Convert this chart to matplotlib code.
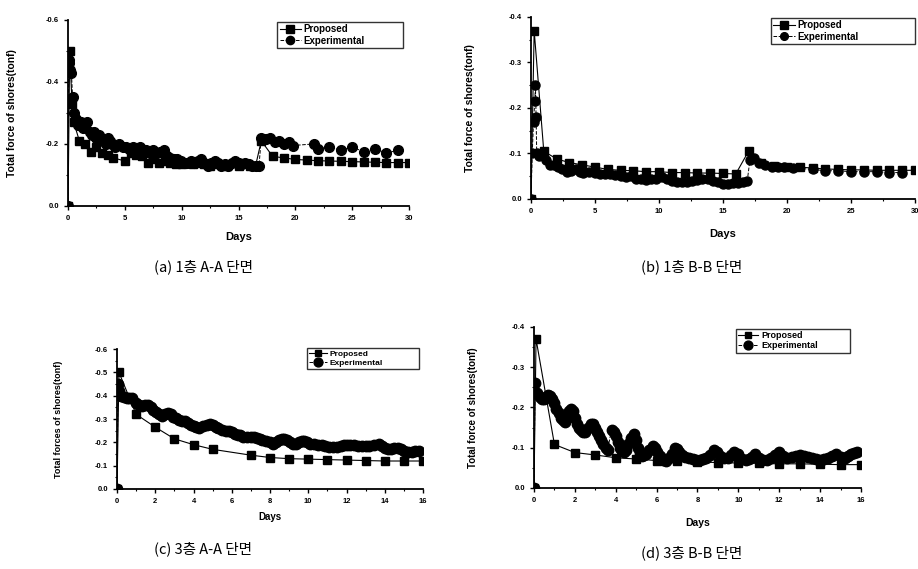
import matplotlib.pyplot as plt
from matplotlib.ticker import MultipleLocator

# (a) 1st floor A-A section
a_prop_x = [0, 0.15, 0.35, 0.5, 1, 1.5, 2, 2.5, 3, 3.5, 4, 5, 5.5, 6, 6.5, 7, 7.5, 8, 8.5, 9,
            9.5, 10, 10.5, 11, 11.5, 12, 12.5, 13, 14, 15, 16, 16.5,
            17, 18, 19, 20, 21, 22, 23, 24, 25, 26, 27, 28, 29, 30]
a_prop_y = [0, -0.50, -0.33, -0.27, -0.21, -0.20, -0.175, -0.19, -0.17, -0.165, -0.155, -0.145, -0.17, -0.165,
            -0.16, -0.14, -0.15, -0.14, -0.145, -0.14, -0.135, -0.135, -0.14, -0.135, -0.14, -0.135, -0.13,
            -0.135, -0.13, -0.13, -0.13, -0.13,
            -0.21, -0.16, -0.155, -0.15, -0.148, -0.146, -0.145, -0.144, -0.143, -0.142, -0.141, -0.14, -0.14, -0.14]
a_exp_x = [0, 0.05, 0.1, 0.2, 0.3, 0.4, 0.5, 0.7, 0.9, 1.1, 1.3, 1.5, 1.7, 1.9, 2.1, 2.3, 2.5, 2.7, 2.9,
           3.1, 3.3, 3.5, 3.7, 3.9, 4.1, 4.5, 4.8, 5.1, 5.4, 5.7, 6.0, 6.3, 6.6, 6.9, 7.2, 7.5, 7.8,
           8.1, 8.4, 8.7, 9.0, 9.3, 9.6, 9.9, 10.2, 10.5, 10.8, 11.1, 11.4, 11.7, 12.0, 12.3, 12.6,
           12.9, 13.2, 13.5, 13.8, 14.1, 14.4, 14.7, 15.0, 15.3, 15.6, 15.9, 16.2, 16.5, 16.8,
           17.0, 17.4, 17.8, 18.2, 18.6, 19.0, 19.4, 19.8, 21.6, 22.0, 23.0, 24.0, 25.0, 26.0, 27.0, 28.0, 29.0]
a_exp_y = [0, -0.47, -0.46, -0.44, -0.43, -0.35, -0.30, -0.28, -0.26, -0.27, -0.25, -0.26, -0.27, -0.24,
           -0.23, -0.24, -0.22, -0.23, -0.22, -0.21, -0.20, -0.22, -0.21, -0.20, -0.19, -0.20, -0.19,
           -0.19, -0.185, -0.19, -0.18, -0.19, -0.17, -0.18, -0.17, -0.18, -0.17, -0.175, -0.18, -0.16,
           -0.155, -0.15, -0.15, -0.145, -0.14, -0.14, -0.145, -0.14, -0.145, -0.15, -0.14, -0.13, -0.14,
           -0.145, -0.14, -0.13, -0.135, -0.13, -0.14, -0.145, -0.14, -0.135, -0.14, -0.135, -0.13,
           -0.13, -0.13,
           -0.22, -0.215, -0.22, -0.205, -0.21, -0.20, -0.205, -0.195, -0.20, -0.185, -0.19, -0.18,
           -0.19, -0.175, -0.185, -0.17, -0.18]

# (b) 1st floor B-B section
b_prop_x = [0, 0.25, 1, 2, 3, 4, 5, 6, 7, 8, 9, 10, 11, 12, 13, 14, 15, 16,
            17, 18, 19, 20, 21, 22, 23, 24, 25, 26, 27, 28, 29, 30]
b_prop_y = [0, -0.37, -0.105, -0.088, -0.08, -0.075, -0.07, -0.065, -0.063, -0.062, -0.06, -0.06, -0.058,
            -0.058, -0.057, -0.057, -0.056, -0.055,
            -0.105, -0.08, -0.072, -0.07, -0.07, -0.068, -0.066, -0.065, -0.064, -0.064, -0.063,
            -0.063, -0.063, -0.063]
b_exp_x = [0, 0.1, 0.2, 0.3, 0.35, 0.4, 0.45, 0.6, 0.9, 1.2, 1.5, 1.8, 2.1, 2.4, 2.8, 3.1, 3.5, 3.8,
           4.1, 4.5, 5.0, 5.4, 5.8, 6.2, 6.6, 7.0, 7.4, 7.8, 8.2, 8.6, 9.0, 9.4, 9.8, 10.2, 10.6,
           11.0, 11.4, 11.8, 12.2, 12.6, 13.0, 13.4, 13.8, 14.2, 14.6, 15.0, 15.4, 15.8, 16.2, 16.6,
           16.9, 17.1, 17.4, 17.8, 18.3, 18.8, 19.3, 19.8, 20.5, 22.0, 23.0, 24.0, 25.0, 26.0, 27.0,
           28.0, 29.0]
b_exp_y = [0, -0.10, -0.17, -0.215, -0.25, -0.18, -0.10, -0.095, -0.10, -0.085, -0.075, -0.075, -0.07,
           -0.065, -0.06, -0.062, -0.065, -0.06, -0.058, -0.06, -0.058, -0.055, -0.055, -0.055, -0.053,
           -0.05, -0.048, -0.05, -0.045, -0.045, -0.042, -0.045, -0.045, -0.048, -0.045, -0.04, -0.038,
           -0.037, -0.037, -0.04, -0.042, -0.045, -0.045, -0.04, -0.038, -0.033, -0.032, -0.035, -0.035,
           -0.038, -0.04, -0.085, -0.09, -0.08, -0.075, -0.07, -0.07, -0.07, -0.068, -0.065, -0.062,
           -0.062, -0.06, -0.06, -0.06, -0.058, -0.058]

# (c) 3rd floor A-A section
c_prop_x = [0, 0.1, 1, 2, 3, 4, 5, 7, 8, 9, 10, 11, 12, 13, 14, 15, 16]
c_prop_y = [0, -0.50, -0.32, -0.265, -0.215, -0.19, -0.17, -0.145, -0.135, -0.13, -0.128, -0.126,
            -0.124, -0.122, -0.12, -0.12, -0.12]
c_exp_x = [0, 0.05, 0.1, 0.2, 0.35, 0.5, 0.65, 0.8, 1.0, 1.15, 1.3, 1.45, 1.6, 1.75, 1.9, 2.05, 2.2,
           2.35, 2.5, 2.65, 2.8, 2.95, 3.1, 3.25, 3.4, 3.55, 3.7, 3.85, 4.0, 4.15, 4.3, 4.5, 4.7,
           4.85, 5.0, 5.15, 5.3, 5.5, 5.7, 5.85, 6.0, 6.15, 6.3, 6.45, 6.6, 6.8, 7.0, 7.15, 7.3,
           7.45, 7.6, 7.8, 8.0, 8.15, 8.3, 8.45, 8.6, 8.75, 8.9, 9.05, 9.2, 9.35, 9.5, 9.65, 9.8,
           9.95, 10.1, 10.3, 10.5, 10.7, 10.9, 11.1, 11.3, 11.5, 11.7, 11.85, 12.0, 12.2, 12.4,
           12.6, 12.8, 13.0, 13.2, 13.45, 13.7, 13.85, 14.0, 14.15, 14.3, 14.5, 14.7, 14.85, 15.0,
           15.2, 15.4, 15.6, 15.8]
c_exp_y = [0, -0.45, -0.42, -0.40, -0.395, -0.39, -0.39, -0.39, -0.37, -0.36, -0.355, -0.36, -0.36,
           -0.35, -0.34, -0.33, -0.32, -0.315, -0.32, -0.325, -0.32, -0.31, -0.305, -0.295, -0.29,
           -0.29, -0.285, -0.275, -0.27, -0.265, -0.26, -0.27, -0.275, -0.28, -0.275, -0.265, -0.26,
           -0.255, -0.25, -0.25, -0.245, -0.235, -0.23, -0.23, -0.225, -0.225, -0.225, -0.225, -0.22,
           -0.215, -0.21, -0.205, -0.20, -0.195, -0.20, -0.21, -0.215, -0.215, -0.21, -0.20, -0.195,
           -0.195, -0.20, -0.205, -0.205, -0.20, -0.195, -0.195, -0.19, -0.19, -0.185, -0.18, -0.18,
           -0.18, -0.185, -0.19, -0.19, -0.19, -0.19, -0.185, -0.185, -0.185, -0.185, -0.19, -0.195,
           -0.185, -0.175, -0.17, -0.17, -0.175, -0.175, -0.17, -0.165, -0.16, -0.16, -0.165, -0.165]

# (d) 3rd floor B-B section
d_prop_x = [0, 0.1, 1, 2, 3, 4, 5, 6, 7, 8, 9, 10, 11, 12, 13, 14, 15, 16]
d_prop_y = [0, -0.37, -0.108, -0.088, -0.082, -0.075, -0.072, -0.068, -0.066, -0.065, -0.063, -0.062,
            -0.061, -0.06, -0.06, -0.059, -0.058, -0.058]
d_exp_x = [0, 0.05, 0.15, 0.3, 0.4, 0.5, 0.6, 0.7, 0.8, 0.9, 1.0, 1.1, 1.2, 1.3, 1.4, 1.5, 1.6, 1.7,
           1.8, 1.9, 2.0, 2.1, 2.2, 2.3, 2.4, 2.5, 2.65, 2.8, 2.9, 3.0, 3.1, 3.2, 3.3, 3.4, 3.5, 3.6,
           3.8, 3.9, 4.0, 4.1, 4.2, 4.3, 4.4, 4.5, 4.6, 4.75, 4.9, 5.0, 5.1, 5.2, 5.3, 5.4, 5.5,
           5.65, 5.8, 5.9, 6.0, 6.15, 6.3, 6.45, 6.6, 6.75, 6.9, 7.0, 7.1, 7.25, 7.4, 7.6, 7.8,
           7.95, 8.1, 8.25, 8.4, 8.6, 8.8, 8.95, 9.1, 9.3, 9.5, 9.65, 9.8, 10.0, 10.2, 10.35, 10.5,
           10.65, 10.8, 11.0, 11.2, 11.4, 11.6, 11.8, 12.0, 12.2, 12.4, 12.6, 12.8, 13.0, 13.2,
           13.4, 13.6, 13.8, 14.0, 14.2, 14.4, 14.6, 14.8, 15.0, 15.2, 15.35, 15.5, 15.65, 15.8]
d_exp_y = [0, -0.26, -0.235, -0.225, -0.22, -0.22, -0.225, -0.23, -0.228, -0.22, -0.21, -0.195,
           -0.185, -0.175, -0.168, -0.165, -0.175, -0.19, -0.195, -0.19, -0.175, -0.16, -0.15,
           -0.145, -0.14, -0.14, -0.15, -0.16, -0.158, -0.15, -0.14, -0.13, -0.12, -0.11, -0.1,
           -0.095, -0.145, -0.14, -0.13, -0.115, -0.1, -0.092, -0.09, -0.095, -0.11, -0.125,
           -0.135, -0.12, -0.1, -0.088, -0.08, -0.082, -0.085, -0.095, -0.105, -0.1, -0.09, -0.08,
           -0.07, -0.068, -0.075, -0.085, -0.1, -0.098, -0.09, -0.082, -0.078, -0.075, -0.072,
           -0.07, -0.07, -0.072, -0.075, -0.082, -0.095, -0.09, -0.08, -0.075, -0.075, -0.082,
           -0.09, -0.085, -0.072, -0.07, -0.072, -0.078, -0.085, -0.075, -0.07, -0.07, -0.075,
           -0.082, -0.09, -0.08, -0.075, -0.078, -0.08, -0.082, -0.08, -0.076, -0.075, -0.072,
           -0.07, -0.072, -0.075, -0.08, -0.085, -0.078, -0.075, -0.08, -0.085, -0.088, -0.09]

captions = ['(a) 1층 A-A 단면', '(b) 1층 B-B 단면', '(c) 3층 A-A 단면', '(d) 3층 B-B 단면']

plt.rcParams['font.family'] = ['Liberation Sans', 'DejaVu Sans']
plt.rcParams['axes.unicode_minus'] = False

fig = plt.figure(figsize=(9.18, 5.69), dpi=100)

panels = [
    dict(rect=[0.0741, 0.638, 0.3715, 0.327], xmax=30, xmaj=5, ymin=-0.6, ymaj=0.2, ymin_t=0.1,
         prop=(a_prop_x, a_prop_y), exp=(a_exp_x, a_exp_y), ylabel='Total force of shores(tonf)',
         ylab_x=-0.15, xlab_y=-0.14, ms=(6, 7), fs=7.5, leg=(0.613, 0.817, 0.369, 0.172)),
    dict(rect=[0.5784, 0.6503, 0.4183, 0.3199], xmax=30, xmaj=5, ymin=-0.4, ymaj=0.1, ymin_t=0.05,
         prop=(b_prop_x, b_prop_y), exp=(b_exp_x, b_exp_y), ylabel='Total force of shores(tonf)',
         ylab_x=-0.146, xlab_y=-0.165, ms=(6, 6.5), fs=7.5, leg=(0.625, 0.808, 0.375, 0.187)),
    dict(rect=[0.1275, 0.1406, 0.3333, 0.246], xmax=16, xmaj=2, ymin=-0.6, ymaj=0.1, ymin_t=0.05,
         prop=(c_prop_x, c_prop_y), exp=(c_exp_x, c_exp_y), ylabel='Total forces of shores(tonf)',
         ylab_x=-0.176, xlab_y=-0.164, ms=(5.5, 7.5), fs=6.5, leg=(0.621, 0.829, 0.366, 0.178)),
    dict(rect=[0.5817, 0.1424, 0.3562, 0.283], xmax=16, xmaj=2, ymin=-0.4, ymaj=0.1, ymin_t=0.05,
         prop=(d_prop_x, d_prop_y), exp=(d_exp_x, d_exp_y), ylabel='Total force of shores(tonf)',
         ylab_x=-0.171, xlab_y=-0.186, ms=(5.5, 7.5), fs=7, leg=(0.618, 0.814, 0.348, 0.174)),
]

for p in panels:
    ax = fig.add_axes(p['rect'])
    ax.plot(*p['prop'], color='black', lw=0.8, marker='s', ms=p['ms'][0], label='Proposed')
    ax.plot(*p['exp'], color='black', lw=0.7, ls='--', marker='o', ms=p['ms'][1], label='Experimental')
    ax.set_xlim(0, p['xmax'])
    ax.set_ylim(0, p['ymin'])
    ax.xaxis.set_major_locator(MultipleLocator(p['xmaj']))
    ax.xaxis.set_minor_locator(MultipleLocator(p['xmaj'] / 2))
    ax.yaxis.set_major_locator(MultipleLocator(p['ymaj']))
    ax.yaxis.set_minor_locator(MultipleLocator(p['ymin_t']))
    ax.spines['top'].set_visible(False)
    ax.spines['right'].set_visible(False)
    ax.spines['left'].set_linewidth(1.3)
    ax.spines['bottom'].set_linewidth(1.3)
    ax.tick_params(which='major', length=3, width=1, labelsize=5.5)
    ax.tick_params(which='minor', length=1.5, width=0.8)
    for lab in ax.get_xticklabels() + ax.get_yticklabels():
        lab.set_fontweight('bold')
    ax.set_ylabel(p['ylabel'], fontsize=p['fs'], fontweight='bold')
    ax.set_xlabel('Days', fontsize=p['fs'] + 0.5, fontweight='bold')
    ax.yaxis.set_label_coords(p['ylab_x'], 0.5)
    ax.xaxis.set_label_coords(0.5, p['xlab_y'])
    leg = ax.legend(loc='upper left', bbox_to_anchor=p['leg'], mode='expand', fancybox=False,
                    edgecolor='black', fontsize=p['fs'] - 0.5, handlelength=2.2, borderpad=0.25,
                    labelspacing=0.15, handletextpad=0.3, borderaxespad=0, markerscale=0.85)
    leg.get_frame().set_linewidth(1.0)
    for t in leg.get_texts():
        t.set_fontweight('bold')

cap_font = ['Noto Sans CJK KR', 'DejaVu Sans']
fig.text(203 / 918, 1 - 267 / 569, captions[0], ha='center', va='center', fontsize=10.5, family=cap_font)
fig.text(692 / 918, 1 - 267 / 569, captions[1], ha='center', va='center', fontsize=10.5, family=cap_font)
fig.text(203 / 918, 1 - 549 / 569, captions[2], ha='center', va='center', fontsize=10.5, family=cap_font)
fig.text(692 / 918, 1 - 553 / 569, captions[3], ha='center', va='center', fontsize=10.5, family=cap_font)

fig.savefig('out.png', dpi=100)
